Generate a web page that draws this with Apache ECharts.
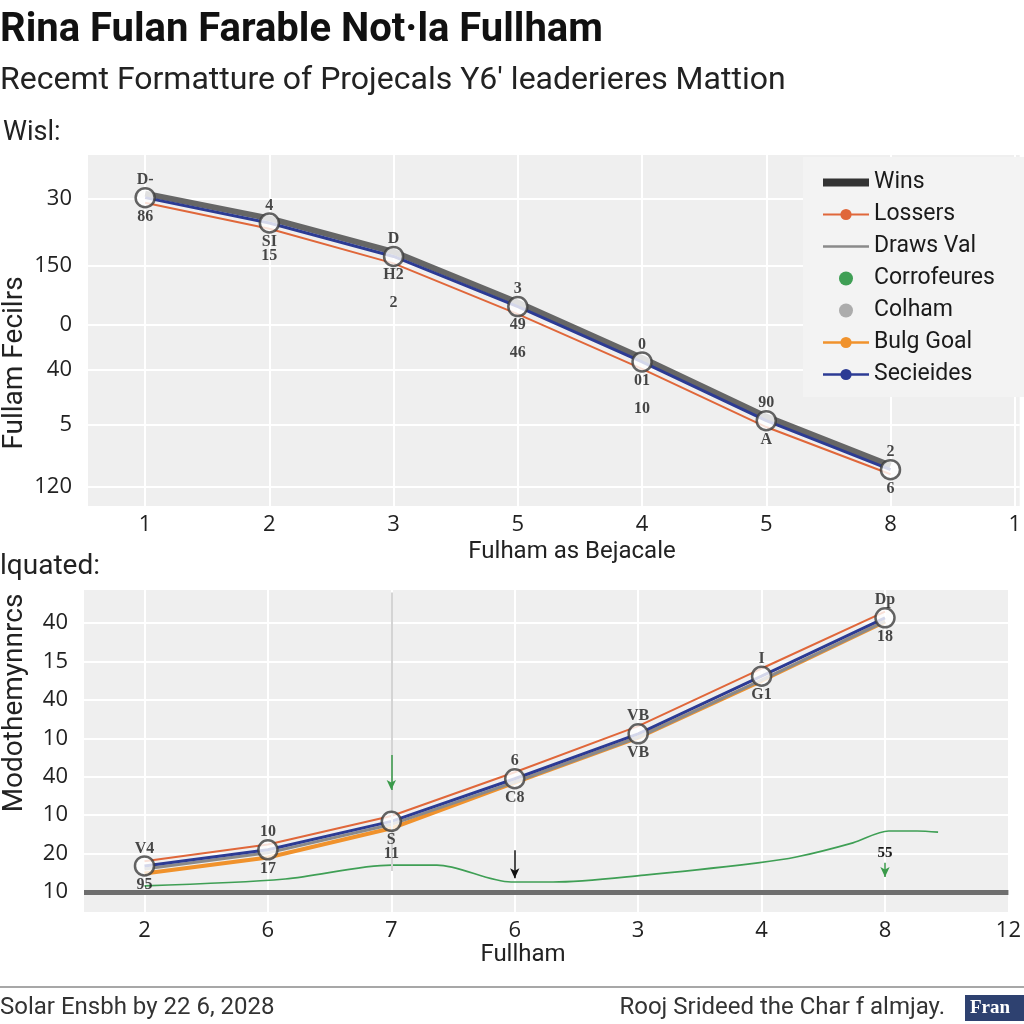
<!DOCTYPE html>
<html><head><meta charset="utf-8">
<script src="https://cdn.jsdelivr.net/npm/echarts@6/dist/echarts.min.js"></script>
<style>html,body{margin:0;padding:0;background:#fff}#c{width:1024px;height:1024px}</style>
</head><body><div id="c"></div>
<script>
// ---- data ----
const topXLabels = ['1','2','3','5','4','5','8','1'];
const topYLabels = ['120','5','40','0','150','30'];
const topYTicks = [0, 1.08, 2.03, 2.81, 3.84, 5.0];
const topWins = [5.09, 4.66, 4.08, 3.2, 2.24, 1.22, 0.37];
const topSecieides = [5.02, 4.58, 4.0, 3.13, 2.17, 1.15, 0.30];
const topLossers = [4.93, 4.48, 3.88, 3.0, 2.05, 1.04, 0.22];
const topAbove = ['D-','4','D','3','0','90','2'];
const topBelow = ['86','SI\n15','H2\n\n2','49\n\n46','01\n\n10','A','6'];

const botXLabels = ['2','6','7','6','3','4','8','12'];
const botYLabels = ['10','20','10','40','10','40','15','40'];
const botYTicks = [0,1,2,3,4,5,6,7];
const botSecieides = [0.68, 1.1, 1.84, 2.95, 4.12, 5.62, 7.14];
const botLossers = [0.8, 1.24, 1.98, 3.12, 4.32, 5.82, 7.3];
const botDraws = [0.6, 1.02, 1.76, 2.86, 4.03, 5.52, 7.05];
const botBulg = [0.48, 0.9, 1.66, 2.85, 4.02, 5.5, 7.04];
const botAbove = ['V4','10','','6','VB','I','Dp'];
const botBelow = ['95','17','S\n11','C8','VB','G1','18'];
const corroX = [0, 1.14, 2.0, 2.37, 2.97, 3.31, 4.05, 4.97, 5.28, 5.74, 6.03, 6.26, 6.43];
const corroY = [0.16, 0.34, 0.70, 0.70, 0.26, 0.26, 0.44, 0.76, 0.91, 1.28, 1.59, 1.59, 1.56];
const arrows = [
  {x: 2, from: 3.57, to: 2.66, color: '#3a9a4a', label: ''},
  {x: 3, from: 1.09, to: 0.36, color: '#111111', label: ''},
  {x: 6, from: 0.76, to: 0.39, color: '#3a9a4a', label: '55'}
];
const botBaseline = 0;

// ---- styles ----
const NARROW = '"Roboto", "Liberation Sans", sans-serif';
const SANS = '"Open Sans", "Noto Sans", sans-serif';
const SERIF = '"Liberation Serif", "DejaVu Serif", serif';
const C = {wins:'#666666', loss:'#e0673a', draws:'#8a8a8a', corro:'#3f9f55', colham:'#9a9a9a', bulg:'#f0922c', sec:'#2c3b94'};

const pts = (arr) => arr.map((v, i) => [i, v]);

function xAxis(gi, labels, min, max) {
  return {
    type: 'value', gridIndex: gi, min: min, max: max,
    axisLine: {show: false}, axisTick: {show: false, customValues: labels.map((_, i) => i)},
    axisLabel: {customValues: labels.map((_, i) => i), formatter: v => labels[Math.round(v)],
      fontSize: 22, color: '#222', fontFamily: SANS, margin: 8, showMaxLabel: true, showMinLabel: true},
    splitLine: {show: true, lineStyle: {color: '#ffffff', width: 2}}
  };
}
function yAxis(gi, labels, ticks, min, max) {
  return {
    type: 'value', gridIndex: gi, min: min, max: max,
    axisLine: {show: false}, axisTick: {show: false, customValues: ticks},
    axisLabel: {customValues: ticks, formatter: v => labels[ticks.findIndex(t => Math.abs(t - v) < 1e-6)],
      fontSize: 22, color: '#222', fontFamily: SANS, margin: 16},
    splitLine: {show: true, lineStyle: {color: '#ffffff', width: 2}}
  };
}
const lbl = (pos, arr) => ({show: true, position: pos, distance: 1, formatter: p => arr[p.dataIndex],
  fontFamily: SERIF, fontWeight: 'bold', fontSize: 16, lineHeight: 14, color: '#1a1a1a'});

const series = [
  // top grid
  {name: 'Lossers', type: 'line', xAxisIndex: 0, yAxisIndex: 0, data: pts(topLossers), showSymbol: false, symbol: 'circle',
   lineStyle: {color: C.loss, width: 2}, itemStyle: {color: C.loss}},
  {name: 'Wins', type: 'line', xAxisIndex: 0, yAxisIndex: 0, data: pts(topWins), symbol: 'none',
   lineStyle: {color: C.wins, width: 6}, itemStyle: {color: C.wins}},
  {name: 'Secieides', type: 'line', xAxisIndex: 0, yAxisIndex: 0, data: pts(topSecieides), showSymbol: false, symbol: 'circle',
   lineStyle: {color: C.sec, width: 3}, itemStyle: {color: C.sec}},
  {name: 'Colham', type: 'scatter', xAxisIndex: 0, yAxisIndex: 0, data: pts(topSecieides), symbolSize: 19,
   itemStyle: {color: '#ffffff', borderColor: '#3d3d3d', borderWidth: 2.5}, label: lbl('bottom', topBelow), z: 5},
  {name: '_topAbove', type: 'scatter', xAxisIndex: 0, yAxisIndex: 0, data: pts(topSecieides), symbolSize: 19, silent: true,
   itemStyle: {color: 'rgba(0,0,0,0)'}, label: lbl('top', topAbove), z: 6},
  // bottom grid
  {name: 'Bulg Goal', type: 'line', xAxisIndex: 1, yAxisIndex: 1, data: pts(botBulg), showSymbol: false, symbol: 'circle',
   lineStyle: {color: C.bulg, width: 4}, itemStyle: {color: C.bulg}},
  {name: 'Draws Val', type: 'line', xAxisIndex: 1, yAxisIndex: 1, data: pts(botDraws), symbol: 'none',
   lineStyle: {color: C.draws, width: 3}, itemStyle: {color: C.draws}},
  {name: 'Lossers', type: 'line', xAxisIndex: 1, yAxisIndex: 1, data: pts(botLossers), showSymbol: false, symbol: 'circle',
   lineStyle: {color: C.loss, width: 2}, itemStyle: {color: C.loss}},
  {name: 'Secieides', type: 'line', xAxisIndex: 1, yAxisIndex: 1, data: pts(botSecieides), showSymbol: false, symbol: 'circle',
   lineStyle: {color: C.sec, width: 3}, itemStyle: {color: C.sec}},
  {name: 'Corrofeures', type: 'line', xAxisIndex: 1, yAxisIndex: 1, data: corroX.map((x, i) => [x, corroY[i]]),
   symbol: 'none', smooth: 0.3, lineStyle: {color: C.corro, width: 1.6}, itemStyle: {color: C.corro},
   markLine: {
     silent: true, animation: false,
     data: [
       [{coord: [2, 7.8], symbol: 'none', lineStyle: {color: '#d4d4d4', width: 2, type: 'solid'}}, {coord: [2, 0.55], symbol: 'none'}],
       [{coord: [-0.49, botBaseline], symbol: 'none', lineStyle: {color: '#6e6e6e', width: 5, type: 'solid'}}, {coord: [7, botBaseline], symbol: 'none'}]
     ].concat(arrows.map(a => [
       {coord: [a.x, a.from], symbol: 'none', lineStyle: {color: a.color, width: 1.5, type: 'solid'},
        label: {show: !!a.label, formatter: a.label, position: 'start', fontFamily: SERIF, fontWeight: 'bold', fontSize: 15, color: '#1a1a1a', distance: 2}},
       {coord: [a.x, a.to], symbol: 'arrow', symbolSize: [7, 10]}
     ])),
     label: {show: false}
   }},
  {name: 'Colham', type: 'scatter', xAxisIndex: 1, yAxisIndex: 1, data: pts(botSecieides), symbolSize: 19,
   itemStyle: {color: '#ffffff', borderColor: '#3d3d3d', borderWidth: 2.5}, label: lbl('bottom', botBelow), z: 5},
  {name: '_botAbove', type: 'scatter', xAxisIndex: 1, yAxisIndex: 1, data: pts(botSecieides), symbolSize: 19, silent: true,
   itemStyle: {color: 'rgba(0,0,0,0)'}, label: lbl('top', botAbove), z: 6}
];

const chart = echarts.init(document.getElementById('c'), null, {renderer: 'canvas'});
chart.setOption({
  animation: false,
  backgroundColor: '#ffffff',
  grid: [
    {left: 88, right: 0, top: 155, height: 351, show: true, backgroundColor: '#efefef', borderWidth: 0},
    {left: 84, right: 9, top: 590, height: 322, show: true, backgroundColor: '#efefef', borderWidth: 0}
  ],
  xAxis: [xAxis(0, topXLabels, -0.46, 7.04), xAxis(1, botXLabels, -0.49, 7)],
  yAxis: [yAxis(0, topYLabels, topYTicks, -0.33, 5.76), yAxis(1, botYLabels, botYTicks, -0.52, 7.865)],
  legend: {
    orient: 'vertical', left: 814, top: 164, padding: 5, itemWidth: 46, itemHeight: 14, itemGap: 5,
    textStyle: {fontSize: 23, fontFamily: NARROW, color: '#1a1a1a', lineHeight: 27}, z: 10, selectedMode: false,
    data: [
      {name: 'Wins', lineStyle: {color: '#333333', width: 8}, itemStyle: {opacity: 0}},
      {name: 'Lossers', itemStyle: {color: C.loss}},
      {name: 'Draws Val', lineStyle: {width: 2.5}, itemStyle: {opacity: 0}},
      {name: 'Corrofeures', icon: 'circle', itemStyle: {color: C.corro}, lineStyle: {opacity: 0}},
      {name: 'Colham', icon: 'circle', itemStyle: {color: C.colham, borderWidth: 0}},
      {name: 'Bulg Goal', itemStyle: {color: C.bulg}, lineStyle: {width: 2.5}},
      {name: 'Secieides', itemStyle: {color: C.sec}, lineStyle: {width: 2.5}}
    ]
  },
  graphic: [
    {type: 'rect', shape: {x: 803, y: 157, width: 221, height: 240}, style: {fill: 'rgba(243,243,243,0.96)'}, z: 9, silent: true},
    {type: 'text', left: 0, top: 11, style: {text: 'Rina Fulan Farable Not·la Fullham', font: 'bold 40px ' + NARROW, fill: '#111'}},
    {type: 'text', left: 0, top: 65, style: {text: 'Recemt Formatture of Projecals Y6′ leaderieres Mattion', font: '32px ' + NARROW, fill: '#222'}},
    {type: 'text', left: 3, top: 120, style: {text: 'Wisl:', font: '27px ' + NARROW, fill: '#222'}},
    {type: 'text', x: 15, y: 363, rotation: Math.PI / 2, style: {text: 'Fullam Fecilrs', font: '28px ' + NARROW, fill: '#222', textAlign: 'center', textVerticalAlign: 'middle'}},
    {type: 'text', x: 572, y: 552, style: {text: 'Fulham as Bejacale', font: '24px ' + NARROW, fill: '#222', textAlign: 'center', textVerticalAlign: 'middle'}},
    {type: 'text', left: 0, top: 553, style: {text: 'lquated:', font: '28px ' + NARROW, fill: '#222'}},
    {type: 'text', x: 15, y: 703, rotation: Math.PI / 2, style: {text: 'Modothemynnrcs', font: '28px ' + NARROW, fill: '#222', textAlign: 'center', textVerticalAlign: 'middle'}},
    {type: 'text', x: 523, y: 955, style: {text: 'Fullham', font: '24px ' + NARROW, fill: '#222', textAlign: 'center', textVerticalAlign: 'middle'}},
    {type: 'line', shape: {x1: 0, y1: 987, x2: 1024, y2: 987}, style: {stroke: '#8a8a8a', lineWidth: 1.5}},
    {type: 'text', x: 0, y: 1008, style: {text: 'Solar Ensbh by 22 6, 2028', font: '24px ' + NARROW, fill: '#333', textVerticalAlign: 'middle'}},
    {type: 'text', x: 945, y: 1008, style: {text: 'Rooj Srideed the Char f almjay.', font: '24px ' + NARROW, fill: '#333', textAlign: 'right', textVerticalAlign: 'middle'}},
    {type: 'rect', shape: {x: 965, y: 995, width: 59, height: 26}, style: {fill: '#2e4170'}},
    {type: 'text', x: 970, y: 1008, style: {text: 'Fran', font: 'bold 19px ' + SERIF, fill: '#ffffff', textVerticalAlign: 'middle'}}
  ],
  series: series
});
</script>
</body></html>
